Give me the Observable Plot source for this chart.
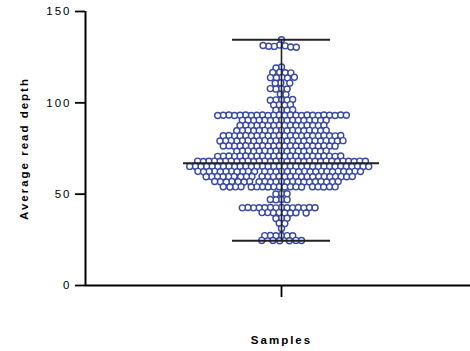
<!DOCTYPE html>
<html><head><meta charset="utf-8">
<script src="https://cdn.jsdelivr.net/npm/d3@7"></script>
<script src="https://cdn.jsdelivr.net/npm/@observablehq/plot@0.6"></script>
<style>
html,body{margin:0;padding:0;background:#fff;overflow:hidden;}
#chart svg{max-width:none !important;}
#chart svg text{font-family:"Liberation Sans",Arial,sans-serif;}
</style></head><body><div id="chart"></div>
<script>
const yTicks = [0, 50, 100, 150];
const xCategory = "Samples";
const yLabel = "Average read depth";
const meanDepth = [66.9];   // mean line as drawn in the reference

// values, top tail to bottom tail
const upperTail = [134.5,
  131.6,131.2,130.9,130.6,131.0,130.4,131.4,
  119.6,119.1,
  116.7,116.5,116.6,116.4,
  113.9,113.7,113.8,114.0,113.6,
  110.9,110.7,110.8,
  107.7,107.5,107.6,107.8,
  104.7,104.5,
  101.7,101.5,101.6,101.8,101.4,
  98.9,98.7,98.8,99.0,
  96.1,95.9,96.0,96.2];
const coreUpper = [
  93.3,93.1,93.2,93.3,93.1,93.2,93.3,93.1,93.2,93.3,93.1,93.2,93.3,93.1,93.2,93.3,93.1,93.2,93.3,93.1,93.2,93.3,93.1,93.2,
  90.5,90.3,90.4,90.5,90.3,90.4,90.5,90.3,90.4,90.5,90.3,90.4,90.5,90.3,90.4,90.5,
  87.7,87.5,87.6,87.7,87.5,87.6,87.7,87.5,87.6,87.7,87.5,87.6,87.7,87.5,87.6,87.7,
  84.9,84.7,84.8,84.9,84.7,84.8,84.9,84.7,84.8,84.9,84.7,84.8,84.9,84.7,84.8,84.9,84.7,
  82.1,81.9,82.0,82.1,81.9,82.0,82.1,81.9,82.0,82.1,81.9,82.0,82.1,81.9,82.0,82.1,81.9,82.0,82.1,81.9,82.0,82.1,
  79.3,79.1,79.2,79.3,79.1,79.2,79.3,79.1,79.2,79.3,79.1,79.2,79.3,79.1,79.2,79.3,79.1,79.2,79.3,79.1,79.2,79.3,79.1,
  76.5,76.3,76.4,76.5,76.3,76.4,76.5,76.3,76.4,76.5,76.3,76.4,76.5,76.3,76.4,76.5,76.3,76.4,76.5,76.3,76.4,
  73.7,73.5,73.6,73.7,73.5,73.6,73.7,73.5,73.6,73.7,73.5,73.6,73.7,73.5,73.6,73.7,73.5];
const coreLower = [
  70.9,70.7,70.8,70.9,70.7,70.8,70.9,70.7,70.8,70.9,70.7,70.8,70.9,70.7,70.8,70.9,70.7,70.8,70.9,70.7,70.8,70.9,70.7,
  68.1,67.9,68.0,68.1,67.9,68.0,68.1,67.9,68.0,68.1,67.9,68.0,68.1,67.9,68.0,68.1,67.9,68.0,68.1,67.9,68.0,68.1,67.9,68.0,68.1,67.9,68.0,68.1,67.9,68.0,68.1,
  65.3,65.1,65.2,65.3,65.1,65.2,65.3,65.1,65.2,65.3,65.1,65.2,65.3,65.1,65.2,65.3,65.1,65.2,65.3,65.1,65.2,65.3,65.1,65.2,65.3,65.1,65.2,65.3,65.1,65.2,65.3,65.1,65.2,
  62.5,62.3,62.4,62.5,62.3,62.4,62.5,62.3,62.4,62.5,62.3,62.4,62.5,62.3,62.4,62.5,62.3,62.4,62.5,62.3,62.4,62.5,62.3,62.4,62.5,62.3,62.4,62.5,62.3,
  59.7,59.5,59.6,59.7,59.5,59.6,59.7,59.5,59.6,59.7,59.5,59.6,59.7,59.5,59.6,59.7,59.5,59.6,59.7,59.5,59.6,59.7,59.5,59.6,59.7,59.5,
  56.9,56.7,56.8,56.9,56.7,56.8,56.9,56.7,56.8,56.9,56.7,56.8,56.9,56.7,56.8,56.9,56.7,56.8,56.9,56.7,56.8,56.9,
  54.1,53.9,54.0,54.1,53.9,54.0,54.1,53.9,54.0,54.1,53.9,54.0,54.1,53.9,54.0,54.1,53.9,54.0,54.1];
const lowerTail = [
  50.3,50.1,50.2,
  47.1,46.9,47.0,47.1,
  42.7,42.5,42.6,42.7,42.5,42.6,42.7,42.5,42.6,42.7,42.5,42.6,42.7,42.5,
  39.9,39.7,39.8,39.9,39.7,39.8,39.9,39.7,
  36.9,36.7,36.8,
  34.1,33.9,
  31.2,
  27.4,27.2,27.3,27.4,27.2,27.3,
  24.7,24.5,24.6,24.7,24.5,24.6];

const depth = [...upperTail, ...coreUpper, ...coreLower, ...lowerTail];
const lo = d3.min(depth), hi = d3.max(depth);
const blue = "#3849a3";

const chart = Plot.plot({
  width: 477, height: 351,
  marginLeft: 85, marginRight: 0, marginTop: 11, marginBottom: 66,
  style: {fontFamily: "Liberation Sans, Arial, sans-serif", fontSize: "11px", background: "#fff", maxWidth: "none"},
  x: {domain: [-1, 1]},
  y: {domain: [0, 150]},
  marks: [
    Plot.axisY(yTicks, {tickSize: 10, tickPadding: 4, strokeWidth: 1.8, label: yLabel, labelArrow: "none", labelAnchor: "center", labelOffset: 66}),
    Plot.axisX([0], {tickSize: 12, strokeWidth: 1.8, tickFormat: () => "", label: xCategory, labelArrow: "none", labelAnchor: "center", labelOffset: 58}),
    Plot.ruleX([-1], {strokeWidth: 2}),
    Plot.ruleY([0], {strokeWidth: 2}),
    Plot.dot(depth, Plot.dodgeX({anchor: "middle", padding: -0.4}, {y: d => d, r: 3.0, stroke: blue, fill: "white", strokeWidth: 1.4})),
    Plot.ruleY(meanDepth, {x1: -0.5, x2: 0.5, strokeWidth: 2, stroke: "#222"}),
    Plot.ruleY([lo, hi], {x1: -0.25, x2: 0.25, strokeWidth: 2, stroke: "#222"}),
    Plot.ruleX([0], {y1: lo, y2: hi, strokeWidth: 1.6, stroke: "#222"})
  ]
});
document.getElementById("chart").appendChild(chart);
const svg = d3.select(chart);
svg.selectAll('g[aria-label="y-axis tick label"] text').style("letter-spacing", "2px").style("font-size", "11.5px");
svg.selectAll('g[aria-label="y-axis label"] text, g[aria-label="x-axis label"] text')
  .style("font-weight", "bold").style("font-size", "11.5px").style("letter-spacing", "2px");
</script></body></html>
